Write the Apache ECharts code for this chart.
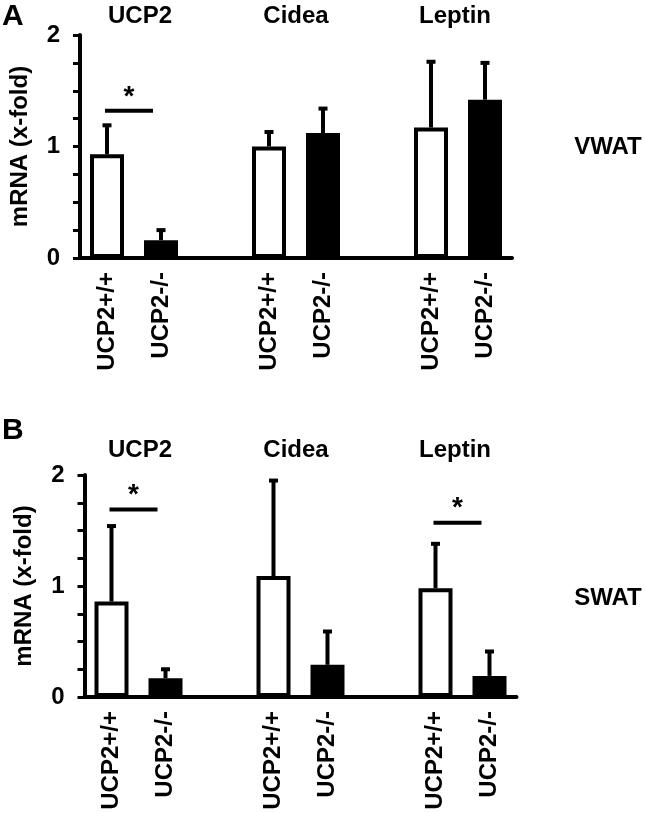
<!DOCTYPE html>
<html>
<head>
<meta charset="utf-8">
<script src="https://cdn.jsdelivr.net/npm/echarts@6/dist/echarts.min.js"></script>
<style>html,body{margin:0;padding:0;background:#fff}#c{width:645px;height:813px}</style>
</head>
<body>
<div id="c"></div>
<script>
// ---- data ----
const genes = ['UCP2', 'Cidea', 'Leptin'];
const genotypes = ['UCP2+/+', 'UCP2-/-'];
const panels = ['A', 'B'];
const tissues = ['VWAT', 'SWAT'];
const yTickLabels = [0, 1, 2];
// Panel A (VWAT): mean and SD (upward error bar)
const wtA = [0.93, 1.00, 1.17];
const wtSdA = [0.26, 0.13, 0.59];
const koA = [0.16, 1.12, 1.42];
const koSdA = [0.09, 0.22, 0.33];
// Panel B (SWAT)
const wtB = [0.86, 1.09, 0.98];
const wtSdB = [0.68, 0.86, 0.40];
const koB = [0.17, 0.29, 0.19];
const koSdB = [0.08, 0.30, 0.22];
// significance: [gene index, bracket height]
const sigA = [[0, 1.32]];
const sigB = [[0, 1.69], [2, 1.57]];

// ---- build ----
const FONT = "'Liberation Sans', Arial, sans-serif";
const cats = [];
genes.forEach((g, i) => {
  cats.push(genotypes[0], genotypes[1]);
  if (i < genes.length - 1) cats.push('');
});
function slot(gi, k) { return gi * 3 + k; }

function barData(wt, ko) {
  const d = [];
  genes.forEach((g, i) => {
    d.push({ value: wt[i], itemStyle: { color: '#fff' } });
    d.push({ value: ko[i], itemStyle: { color: '#000' } });
    if (i < genes.length - 1) d.push('-');
  });
  return d;
}
function errData(wt, wsd, ko, ksd) {
  const d = [];
  genes.forEach((g, i) => {
    d.push([slot(i, 0), wt[i], wt[i] + wsd[i]]);
    d.push([slot(i, 1), ko[i], ko[i] + ksd[i]]);
  });
  return d;
}
function sigData(sig) {
  return sig.map(s => [slot(s[0], 0), slot(s[0], 1), s[1]]);
}

const grids = [
  { left: 80, top: 35, width: 432, height: 223 },
  { left: 84.5, top: 475, width: 432, height: 222 }
];

function xAxisDef(gi) {
  return {
    type: 'category', gridIndex: gi, data: cats,
    axisLine: { lineStyle: { color: '#000', width: 4 } },
    axisTick: { show: false },
    axisLabel: { rotate: 90, interval: 0, margin: 14, color: '#000',
      fontFamily: FONT, fontWeight: 'bold', fontSize: 24 },
    splitLine: { show: false }
  };
}
function yAxisDef(gi) {
  return {
    type: 'value', gridIndex: gi, min: 0, max: 2, interval: 0.25,
    name: 'mRNA (x-fold)', nameLocation: 'middle', nameGap: 48,
    nameTextStyle: { color: '#000', fontFamily: FONT, fontWeight: 'bold', fontSize: 24 },
    axisLine: { show: true, lineStyle: { color: '#000', width: 4 } },
    axisTick: { show: true, length: 7, lineStyle: { color: '#000', width: 3 } },
    axisLabel: { margin: 20, color: '#000', fontFamily: FONT, fontWeight: 'bold', fontSize: 24,
      formatter: v => (yTickLabels.indexOf(v) >= 0 ? String(v) : '') },
    splitLine: { show: false }
  };
}

function errSeries(gi, data) {
  return {
    type: 'custom', xAxisIndex: gi, yAxisIndex: gi, z: 1,
    encode: { x: 0, y: [1, 2] }, data: data,
    renderItem: (params, api) => {
      const x = api.value(0);
      const p0 = api.coord([x, api.value(1)]);
      const p1 = api.coord([x, api.value(2)]);
      return { type: 'group', children: [
        { type: 'line', shape: { x1: p0[0], y1: p0[1], x2: p1[0], y2: p1[1] },
          style: { stroke: '#000', lineWidth: 4 } },
        { type: 'line', shape: { x1: p1[0] - 4.5, y1: p1[1], x2: p1[0] + 4.5, y2: p1[1] },
          style: { stroke: '#000', lineWidth: 4 } }
      ] };
    }
  };
}
function sigSeries(gi, data) {
  return {
    type: 'custom', xAxisIndex: gi, yAxisIndex: gi, z: 3,
    encode: { x: [0, 1], y: 2 }, data: data,
    renderItem: (params, api) => {
      const c0 = api.coord([api.value(0), api.value(2)]);
      const c1 = api.coord([api.value(1), api.value(2)]);
      const xa = c0[0] - 2, xb = c1[0] - 8;
      return { type: 'group', children: [
        { type: 'line', shape: { x1: xa, y1: c0[1], x2: xb, y2: c0[1] },
          style: { stroke: '#000', lineWidth: 4 } },
        { type: 'text', style: { text: '*', x: (xa + xb) / 2, y: c0[1] - 14,
          align: 'center', verticalAlign: 'middle', fill: '#000',
          font: 'bold 28px ' + FONT } }
      ] };
    }
  };
}
function barSeries(gi, data) {
  return {
    type: 'bar', xAxisIndex: gi, yAxisIndex: gi, z: 2, barWidth: 34,
    itemStyle: { borderColor: '#000', borderWidth: 4 },
    data: data
  };
}

const titleX = [140, 296, 455];
const titleY = [16, 450];
const graphics = [];
panels.forEach((p, pi) => {
  graphics.push({ type: 'text', left: 2, top: pi === 0 ? 2 : 416,
    style: { text: p, fill: '#000', font: 'bold 30px ' + FONT } });
  genes.forEach((g, i) => {
    graphics.push({ type: 'text', x: titleX[i], y: titleY[pi],
      style: { text: g, fill: '#000', font: 'bold 24px ' + FONT, align: 'center', verticalAlign: 'middle' } });
  });
  graphics.push({ type: 'text', x: 608, y: pi === 0 ? 147 : 598,
    style: { text: tissues[pi], fill: '#000', font: 'bold 24px ' + FONT, align: 'center', verticalAlign: 'middle' } });
});

const chart = echarts.init(document.getElementById('c'), null, { renderer: 'canvas' });
chart.setOption({
  backgroundColor: '#fff',
  animation: false,
  grid: grids.map(g => Object.assign({ outerBoundsMode: 'none', containLabel: false }, g)),
  xAxis: [xAxisDef(0), xAxisDef(1)],
  yAxis: [yAxisDef(0), yAxisDef(1)],
  series: [
    errSeries(0, errData(wtA, wtSdA, koA, koSdA)),
    barSeries(0, barData(wtA, koA)),
    sigSeries(0, sigData(sigA)),
    errSeries(1, errData(wtB, wtSdB, koB, koSdB)),
    barSeries(1, barData(wtB, koB)),
    sigSeries(1, sigData(sigB))
  ],
  graphic: graphics
});
</script>
</body>
</html>
